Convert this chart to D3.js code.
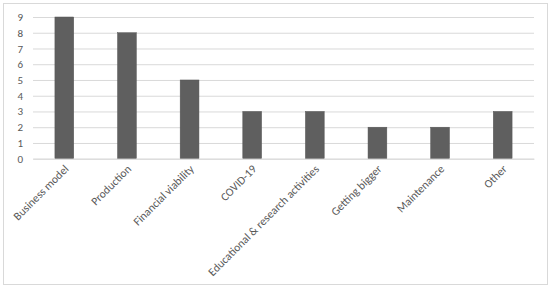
<!DOCTYPE html>
<html>
<head>
<meta charset="utf-8">
<script src="https://cdn.jsdelivr.net/npm/d3@7"></script>
<style>
  body { margin: 0; background: #fff; }
  text { font-family: Calibri, Carlito, "Liberation Sans", sans-serif; fill: #595959; }
</style>
</head>
<body>
<div id="graph1"></div>
<script>
// categories and counts
let categories = ["Business model", "Production", "Financial viability", "COVID-19",
    "Educational & research activities", "Getting bigger", "Maintenance", "Other"];
let counts = [9, 8, 5, 3, 3, 2, 2, 3];
let yTicks = [0, 1, 2, 3, 4, 5, 6, 7, 8, 9];

let width = 550, height = 289;
let margin = { top: 17, right: 16, bottom: 130, left: 33 };

let svg = d3.select("#graph1")
    .append("svg")
    .attr("width", width)
    .attr("height", height);

// chart frame
svg.append("rect")
    .attr("x", 3.5)
    .attr("y", 3.5)
    .attr("width", 544)
    .attr("height", 281)
    .attr("fill", "#fff")
    .attr("stroke", "#d9d9d9");

let g = svg.append("g")
    .attr("transform", `translate(${margin.left}, ${margin.top})`);

let plotW = width - margin.left - margin.right;
let plotH = 158.7 - margin.top;

let x = d3.scaleBand()
    .domain(categories)
    .range([0, plotW])
    .paddingInner(0.7)
    .paddingOuter(0.35);

let y = d3.scaleLinear()
    .domain([0, 9])
    .range([plotH, 0]);

// gridlines
g.append("g")
    .call(d3.axisLeft(y).tickValues(yTicks).tickSize(-plotW).tickFormat(""))
    .call(a => a.select(".domain").remove())
    .selectAll("line")
    .attr("stroke", "#d9d9d9");

// y tick labels
g.append("g")
    .call(d3.axisLeft(y).tickValues(yTicks).tickSize(0).tickPadding(10))
    .call(a => a.select(".domain").remove())
    .selectAll("text")
    .style("font-size", "11px")
    .attr("fill", "#595959");

let bars = g.selectAll("rect.bar").data(counts);
bars.enter()
    .append("rect")
    .attr("class", "bar")
    .attr("x", (d, i) => x(categories[i]))
    .attr("y", d => y(d))
    .attr("width", x.bandwidth())
    .attr("height", d => plotH - y(d))
    .attr("fill", "#5f5f5f")
    .attr("stroke", "#555")
    .attr("stroke-width", 0.5);

// x axis labels, rotated
let xa = g.append("g")
    .attr("transform", `translate(0, ${plotH})`)
    .call(d3.axisBottom(x).tickSize(0).tickPadding(0));
xa.select(".domain").attr("stroke", "#d9d9d9");
xa.selectAll("text")
    .style("font-size", "11.5px")
    .attr("fill", "#595959")
    .style("text-anchor", "end")
    .attr("dy", 0)
    .attr("transform", "translate(5, 11) rotate(-45)");
</script>
</body>
</html>
